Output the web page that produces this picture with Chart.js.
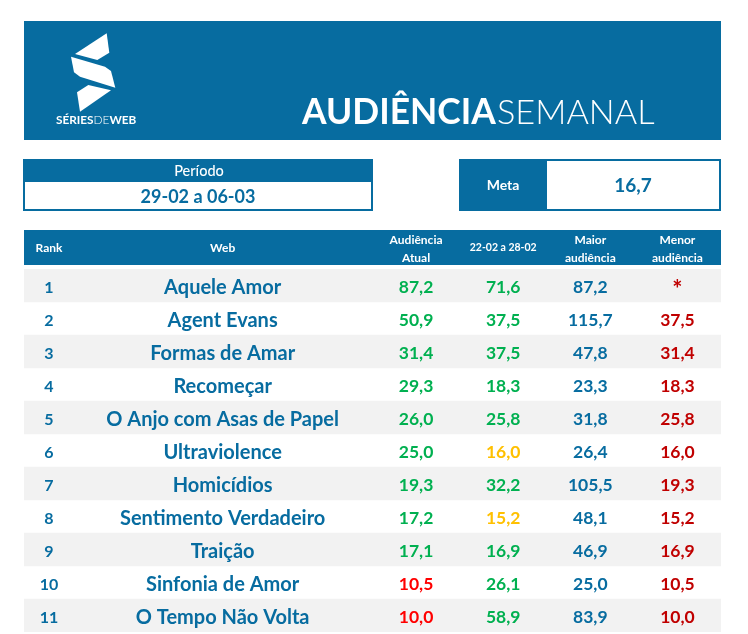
<!DOCTYPE html>
<html>
  <head>
    <meta charset="utf-8">
    <title>Audiência Semanal</title>
    <style>
      html, body { margin: 0; padding: 0; background: #fff; }
      canvas { display: block; }
    </style>
  </head>
  <body>
    <canvas id="MyCanvas" width="748" height="634"></canvas>
    <script src="https://cdnjs.cloudflare.com/ajax/libs/Chart.js/4.4.1/chart.umd.min.js"></script>
    <script>
      const ranks = ["1","2","3","4","5","6","7","8","9","10","11"];
      const webs = ["Aquele Amor","Agent Evans","Formas de Amar","Recomeçar","O Anjo com Asas de Papel","Ultraviolence","Homicídios","Sentimento Verdadeiro","Traição","Sinfonia de Amor","O Tempo Não Volta"];
      const atual = [87.2,50.9,31.4,29.3,26.0,25.0,19.3,17.2,17.1,10.5,10.0];
      const anterior = [71.6,37.5,37.5,18.3,25.8,16.0,32.2,15.2,16.9,26.1,58.9];
      const maior = [87.2,115.7,47.8,23.3,31.8,26.4,105.5,48.1,46.9,25.0,83.9];
      const menor = [null,37.5,31.4,18.3,25.8,16.0,19.3,15.2,16.9,10.5,10.0];
      const headers = [["Rank"],["Web"],["Audiência","Atual"],["22-02 a 28-02"],["Maior","audiência"],["Menor","audiência"]];
      const periodo = "29-02 a 06-03";
      const meta = 16.7;

      const BLUE = "#076ca0", GREEN = "#00b050", YELLOW = "#ffc000", RED = "#ff0000", DARKRED = "#c00000";
      const FONT = "Lato, sans-serif";
      const colX = [0.287, 2.28, 4.5, 5.5, 6.5, 7.5];

      function fmt(v) { return v === null ? "*" : v.toFixed(1).replace(".", ","); }
      function metaColor(v) { return v >= meta ? GREEN : v >= 15 ? YELLOW : RED; }

      function put(ctx, str, x, y, font, color, align) {
        ctx.font = font;
        ctx.fillStyle = color;
        ctx.textAlign = align || "center";
        ctx.textBaseline = "middle";
        ctx.fillText(str, x, y);
      }

      function poly(ctx, pts) {
        ctx.beginPath();
        pts.forEach((p, i) => i ? ctx.lineTo(p[0], p[1]) : ctx.moveTo(p[0], p[1]));
        ctx.closePath();
        ctx.fill();
      }

      function drawLogo(ctx) {
        ctx.fillStyle = "#fff";
        poly(ctx, [[106.7,33.3],[109.3,52.7],[97.3,60],[75,54]]);
        poly(ctx, [[71,56.7],[105,66.7],[111,71],[115.3,87.7],[80,76.7],[74,72.3]]);
        poly(ctx, [[88.3,85],[111,90.3],[80,111.7],[77,92.3]]);
        let x = 56;
        [["SÉRIES","700"],["DE","300"],["WEB","700"]].forEach(p => {
          ctx.font = p[1] + " 11.8px " + FONT;
          ctx.fillStyle = "#fff";
          ctx.textAlign = "left";
          ctx.textBaseline = "middle";
          ctx.fillText(p[0], x, 120.5);
          x += ctx.measureText(p[0]).width;
        });
      }

      const tablePlugin = {
        id: "audienciaTable",
        beforeDraw(chart) {
          const ctx = chart.ctx;
          ctx.save();
          // banner
          ctx.fillStyle = BLUE;
          ctx.fillRect(24, 21, 697, 119);
          drawLogo(ctx);
          put(ctx, "AUDIÊNCIA", 302, 113, "700 35.4px " + FONT, "#fff", "left");
          put(ctx, "SEMANAL", 497, 113, "300 34.3px " + FONT, "#fff", "left");
          // periodo box
          ctx.fillStyle = BLUE;
          ctx.fillRect(23, 159, 350, 52);
          ctx.fillStyle = "#fff";
          ctx.fillRect(25, 182, 346, 27);
          put(ctx, "Período", 199, 171, "500 14.5px " + FONT, "#fff");
          put(ctx, periodo, 198, 197, "700 18px " + FONT, BLUE);
          // meta box
          ctx.fillStyle = BLUE;
          ctx.fillRect(459, 159, 262, 52);
          ctx.fillStyle = "#fff";
          ctx.fillRect(547, 161, 172, 48);
          put(ctx, "Meta", 503, 185, "700 14px " + FONT, "#fff");
          put(ctx, fmt(meta), 633, 186, "700 19px " + FONT, BLUE);
          // table header
          ctx.fillStyle = BLUE;
          ctx.fillRect(24, 230, 697, 35);
          const x = chart.scales.x;
          headers.forEach((lines, c) => {
            const px = x.getPixelForValue(colX[c]);
            const size = lines[0] === "22-02 a 28-02" ? 10.5 : 12;
            if (lines.length === 1) {
              put(ctx, lines[0], px, 248, "700 " + size + "px " + FONT, "#fff");
            } else {
              put(ctx, lines[0], px, 240, "700 " + size + "px " + FONT, "#fff");
              put(ctx, lines[1], px, 258, "700 " + size + "px " + FONT, "#fff");
            }
          });
          ctx.restore();
        },
        afterDatasetsDraw(chart) {
          const ctx = chart.ctx, x = chart.scales.x, y = chart.scales.y;
          ctx.save();
          ranks.forEach((r, i) => {
            const py = y.getPixelForValue(i) + 2;
            put(ctx, r, x.getPixelForValue(colX[0]), py, "700 16px " + FONT, BLUE);
            put(ctx, webs[i], x.getPixelForValue(colX[1]), py, "700 20px " + FONT, BLUE);
            put(ctx, fmt(atual[i]), x.getPixelForValue(colX[2]), py, "700 17.5px " + FONT, metaColor(atual[i]));
            put(ctx, fmt(anterior[i]), x.getPixelForValue(colX[3]), py, "700 17.5px " + FONT, metaColor(anterior[i]));
            put(ctx, fmt(maior[i]), x.getPixelForValue(colX[4]), py, "700 17.5px " + FONT, BLUE);
            if (menor[i] === null) {
              put(ctx, fmt(menor[i]), x.getPixelForValue(colX[5]), py + 3, "700 24px " + FONT, DARKRED);
            } else {
              put(ctx, fmt(menor[i]), x.getPixelForValue(colX[5]), py, "700 17.5px " + FONT, DARKRED);
            }
          });
          ctx.restore();
        }
      };

      var ctx = document.getElementById("MyCanvas").getContext("2d");
      var myChart = new Chart(ctx, {
        type: "bar",
        data: {
          labels: ranks,
          datasets: [{
            label: "Web",
            data: ranks.map((r, i) => i % 2 === 0 ? [0, 8] : null),
            backgroundColor: "#f2f2f2",
            barPercentage: 1,
            categoryPercentage: 1
          }]
        },
        options: {
          indexAxis: "y",
          responsive: false,
          animation: false,
          layout: { padding: { left: 24, right: 27, top: 269, bottom: 2 } },
          plugins: { legend: { display: false }, tooltip: { enabled: false } },
          scales: {
            x: { type: "linear", min: 0, max: 8, display: false },
            y: { type: "category", display: false }
          }
        },
        plugins: [tablePlugin]
      });
    </script>
  </body>
</html>
